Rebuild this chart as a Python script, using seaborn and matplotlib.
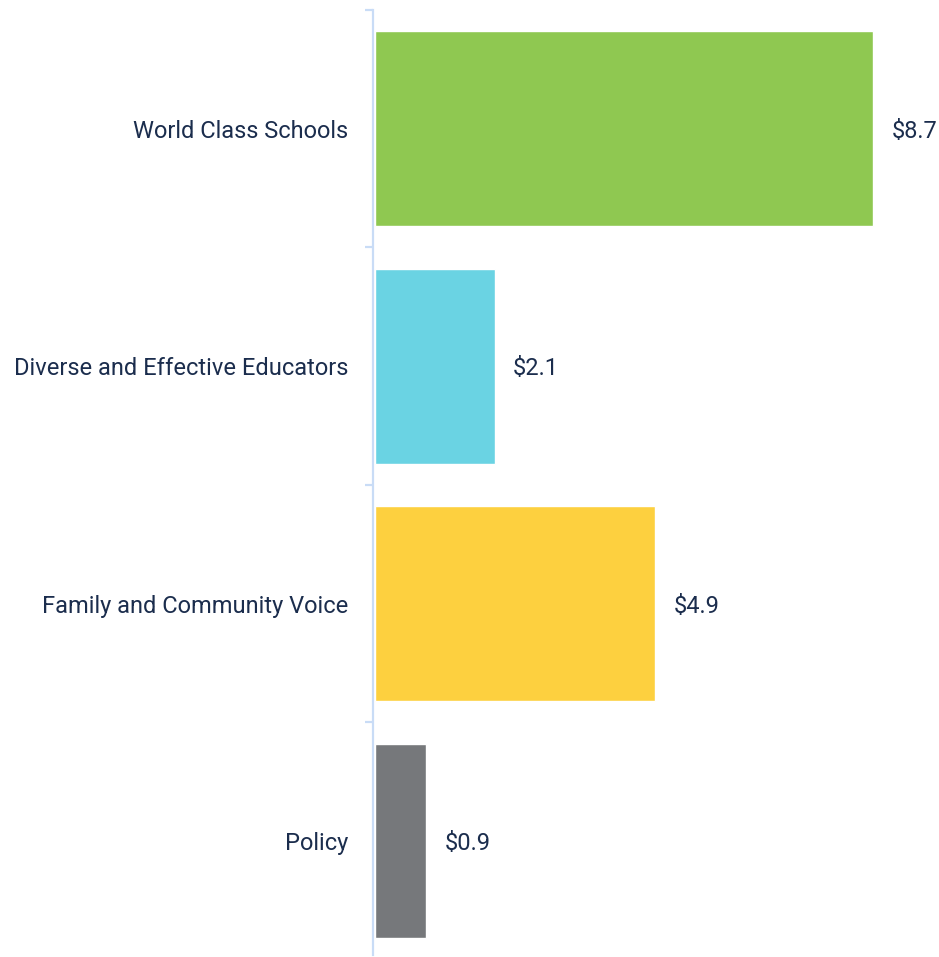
import matplotlib
matplotlib.use("Agg")
import matplotlib.pyplot as plt
import seaborn as sns
import pandas as pd

categories = ["World Class Schools", "Diverse and Effective Educators",
              "Family and Community Voice", "Policy"]
values = [8.7, 2.1, 4.9, 0.9]
labels = ["$8.7", "$2.1", "$4.9", "$0.9"]
colors = ["#8fc851", "#6ad3e3", "#fdd03f", "#76787b"]

sns.set_style("white")
plt.rcParams["font.family"] = ["Roboto", "DejaVu Sans"]
text_color = "#1b2d4d"
axis_color = "#c9dcf6"

df = pd.DataFrame({"category": categories, "value": values})

fig = plt.figure(figsize=(9.39, 9.57), dpi=100)
ax = fig.add_axes([373/939, 2/957, (939-373)/939, (955-10)/957])

sns.barplot(data=df, y="category", x="value", hue="category",
            palette=colors, order=categories, hue_order=categories,
            width=0.82, legend=False, ax=ax, saturation=1)

ax.set_xlim(-0.03, 8.7 * 566 / 500)
ax.set_ylim(3.48, -0.5)
ax.set_xlabel("")
ax.set_ylabel("")
ax.set_xticks([])

for s in ["top", "right", "bottom"]:
    ax.spines[s].set_visible(False)
ax.spines["left"].set_color(axis_color)
ax.spines["left"].set_linewidth(1.6)

ax.set_yticks(range(len(categories)))
ax.set_yticklabels(categories, fontsize=17, color=text_color)
ax.tick_params(axis="y", which="major", length=0, pad=18)
ax.set_yticks([-0.5, 0.5, 1.5, 2.5], minor=True)
ax.tick_params(axis="y", which="minor", length=6, width=1.6, color=axis_color, left=True)

for i, (v, lab) in enumerate(zip(values, labels)):
    ax.annotate(lab, xy=(v, i), xytext=(13, 0), textcoords="offset points",
                va="center_baseline", ha="left", fontsize=17, color=text_color)

fig.savefig("out.png", dpi=100)
